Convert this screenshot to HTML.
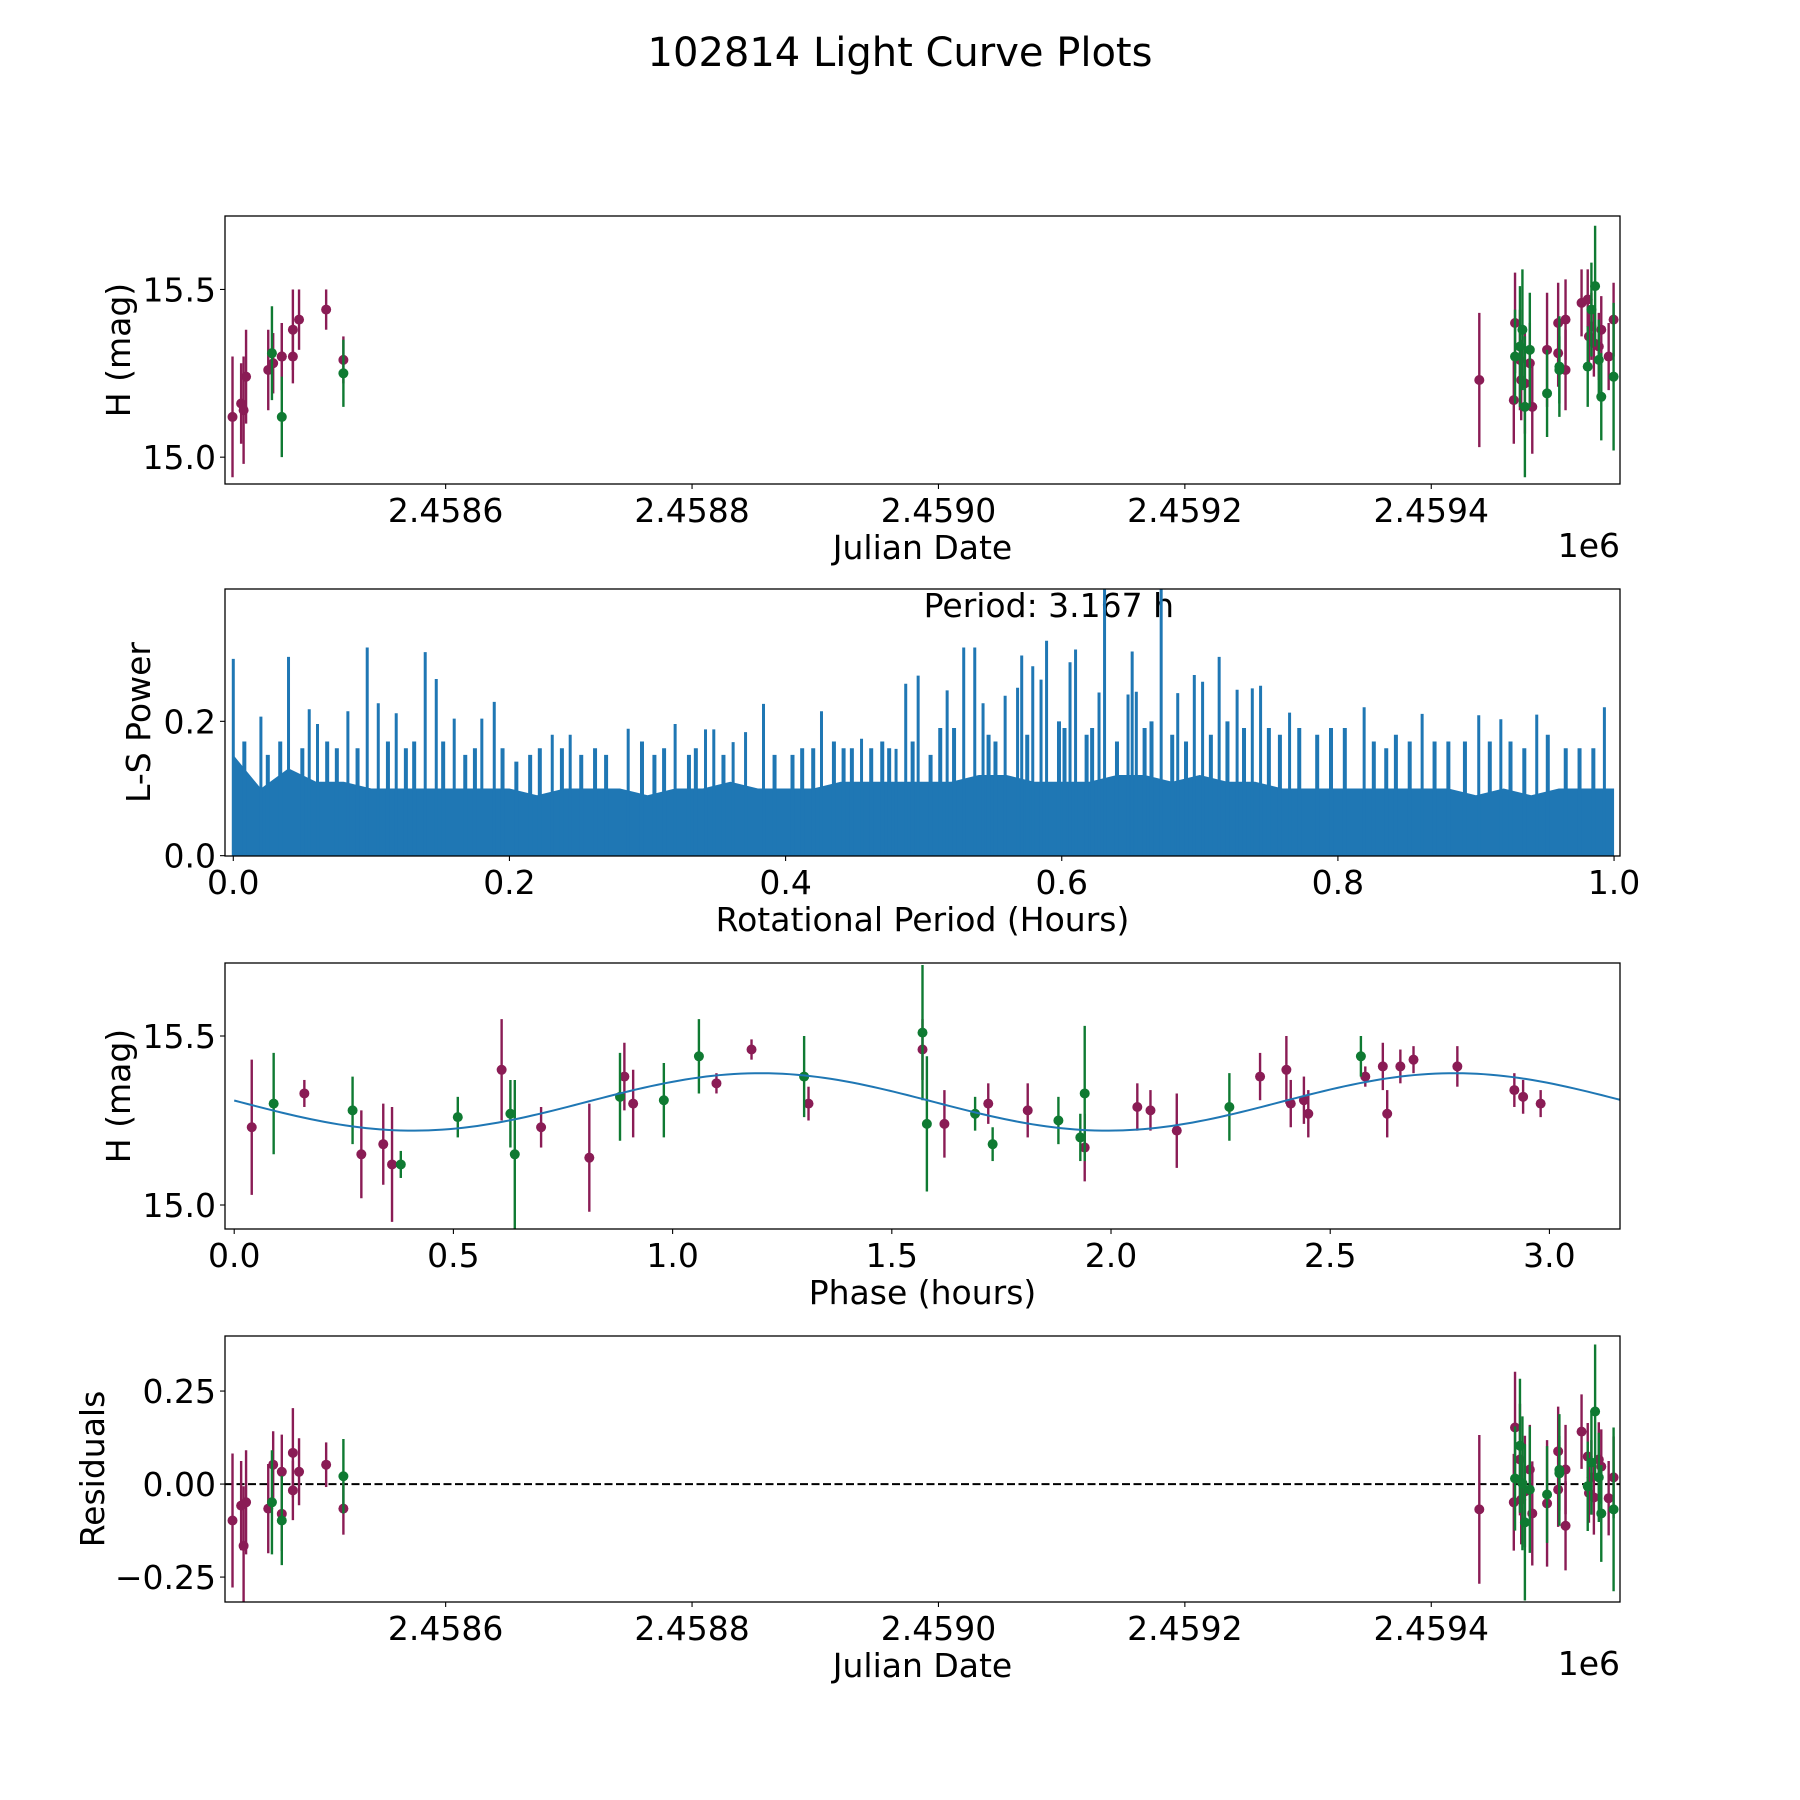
<!DOCTYPE html>
<html><head><meta charset="utf-8"><style>
html,body{margin:0;padding:0;background:#fff}
svg{display:block;font-family:"DejaVu Sans","Liberation Sans",sans-serif}
</style></head><body>
<svg id="fig" width="1800" height="1800" viewBox="0 0 1800 1800" xmlns="http://www.w3.org/2000/svg">
<text x="900" y="66" font-size="40" text-anchor="middle">102814 Light Curve Plots</text>
</svg>
<script>
// ---- Light curve data: [julian date, H mag, err, residual]
const lcPurple = [
[2458427,15.12,0.18,-0.098],[2458434,15.16,0.12,-0.058],[2458436,15.14,0.16,-0.166],[2458438,15.24,0.14,-0.049],
[2458456,15.26,0.12,-0.066],[2458460,15.28,0.09,0.052],[2458467,15.30,0.10,0.033],[2458467,15.30,0.10,-0.080],
[2458476,15.38,0.12,0.084],[2458476,15.30,0.08,-0.017],[2458481,15.41,0.09,0.033],[2458503,15.44,0.06,0.052],
[2458517,15.29,0.07,-0.066],
[2459439,15.23,0.20,-0.068],[2459467,15.17,0.13,-0.049],[2459468,15.40,0.15,0.152],[2459472,15.29,0.15,0.066],
[2459473,15.23,0.12,-0.042],[2459476,15.22,0.15,-0.020],[2459480,15.28,0.12,0.039],[2459482,15.15,0.14,-0.079],
[2459494,15.32,0.17,-0.052],[2459503,15.40,0.12,0.088],[2459503,15.31,0.10,-0.015],[2459509,15.41,0.12,0.039],
[2459509,15.26,0.12,-0.112],[2459522,15.46,0.10,0.141],[2459527,15.47,0.09,0.074],[2459530,15.39,0.10,0.018],
[2459528,15.36,0.08,-0.024],[2459532,15.34,0.10,-0.036],[2459536,15.33,0.10,0.066],[2459538,15.38,0.10,0.047],
[2459544,15.30,0.10,-0.038],[2459548,15.41,0.11,0.018]
];
const lcGreen = [
[2458459,15.31,0.14,-0.049],[2458467,15.12,0.12,-0.098],[2458517,15.25,0.10,0.021],
[2459468,15.30,0.14,0.015],[2459472,15.33,0.18,0.103],[2459474,15.38,0.18,0.002],[2459476,15.15,0.21,-0.103],
[2459480,15.32,0.17,-0.015],[2459494,15.19,0.13,-0.028],[2459504,15.27,0.15,0.038],[2459504,15.26,0.10,0.029],
[2459527,15.27,0.12,-0.006],[2459530,15.44,0.14,0.058],[2459533,15.51,0.18,0.195],[2459536,15.29,0.12,0.018],
[2459538,15.18,0.13,-0.079],[2459548,15.24,0.22,-0.068]
];
// ---- Phase-folded data: [phase hours, mag, err]
const phPurple = [
[0.04,15.23,0.20],[0.16,15.33,0.04],[0.29,15.15,0.13],[0.34,15.18,0.12],[0.36,15.12,0.17],[0.61,15.40,0.15],
[0.70,15.23,0.06],[0.81,15.14,0.16],[0.89,15.38,0.10],[0.91,15.30,0.10],[1.10,15.36,0.03],[1.18,15.46,0.03],
[1.31,15.30,0.05],[1.57,15.46,0.09],[1.62,15.24,0.10],[1.72,15.30,0.06],[1.81,15.28,0.08],[1.94,15.17,0.10],
[2.06,15.29,0.07],[2.09,15.28,0.06],[2.15,15.22,0.11],[2.34,15.38,0.07],[2.40,15.40,0.10],[2.41,15.30,0.07],
[2.44,15.31,0.07],[2.45,15.27,0.07],[2.58,15.38,0.03],[2.62,15.41,0.07],[2.63,15.27,0.07],[2.66,15.41,0.05],
[2.69,15.43,0.04],[2.79,15.41,0.06],[2.92,15.34,0.05],[2.94,15.32,0.05],[2.98,15.30,0.04]
];
const phGreen = [
[0.09,15.30,0.15],[0.27,15.28,0.10],[0.38,15.12,0.04],[0.51,15.26,0.06],[0.63,15.27,0.10],[0.64,15.15,0.22],
[0.88,15.32,0.13],[0.98,15.31,0.11],[1.06,15.44,0.11],[1.30,15.38,0.12],[1.57,15.51,0.20],[1.58,15.24,0.20],
[1.69,15.27,0.05],[1.73,15.18,0.05],[1.88,15.25,0.07],[1.93,15.20,0.07],[1.94,15.33,0.20],[2.27,15.29,0.10],
[2.57,15.44,0.06]
];
const modelMean = 15.305, modelAmp = 0.085, modelPeak = 1.2, period = 3.167;
// ---- Periodogram: prominent peaks, medium peaks and dense background level
const lsPeakX = [0.0,0.020,0.040,0.055,0.061,0.083,0.097,0.105,0.118,0.139,0.147,0.160,0.180,0.189,0.231,0.244,0.286,0.320,0.342,0.348,0.362,0.371,0.384,0.426,0.455,0.480,0.487,0.496,
0.517,0.529,0.537,0.543,0.559,0.568,0.571,0.579,0.585,0.589,0.606,0.610,0.627,0.631,0.648,0.651,0.654,0.672,0.684,0.696,0.702,0.714,0.727,0.738,0.744,0.765,0.819,0.861,0.902,0.918,0.944,0.993];
const lsPeakY = [0.293,0.207,0.296,0.218,0.196,0.215,0.310,0.227,0.212,0.303,0.263,0.204,0.204,0.229,0.180,0.180,0.189,0.196,0.188,0.188,0.169,0.184,0.226,0.215,0.174,0.159,0.256,0.268,
0.246,0.310,0.310,0.227,0.238,0.250,0.298,0.282,0.262,0.320,0.288,0.307,0.243,0.400,0.240,0.304,0.244,0.400,0.242,0.269,0.259,0.296,0.247,0.249,0.253,0.213,0.221,0.211,0.209,0.203,0.210,0.221];
const lsMidX = [0.008,0.025,0.034,0.050,0.068,0.075,0.090,0.112,0.125,0.131,0.152,0.168,0.175,0.195,0.205,0.215,0.222,0.238,0.252,0.262,0.270,0.296,0.305,0.312,0.330,0.335,0.355,0.392,0.405,0.412,0.420,0.435,0.442,0.448,0.462,0.470,0.475,0.492,
0.505,0.512,0.522,0.547,0.552,0.575,0.598,0.602,0.618,0.622,0.640,0.660,0.665,0.680,0.690,0.708,0.720,0.732,0.750,0.758,0.772,0.785,0.795,0.805,0.826,0.835,0.842,0.852,0.870,0.880,0.892,0.910,0.925,0.935,0.952,0.965,0.975,0.985];
const lsMidY = [0.17,0.15,0.17,0.16,0.17,0.16,0.16,0.17,0.16,0.17,0.17,0.15,0.16,0.16,0.14,0.15,0.16,0.16,0.15,0.16,0.15,0.17,0.15,0.16,0.15,0.16,0.15,0.15,0.15,0.16,0.16,0.17,0.16,0.16,0.16,0.17,0.16,0.17,
0.15,0.19,0.19,0.18,0.17,0.18,0.20,0.19,0.18,0.19,0.17,0.19,0.20,0.18,0.17,0.18,0.20,0.19,0.19,0.18,0.19,0.18,0.19,0.19,0.17,0.16,0.18,0.17,0.17,0.17,0.17,0.17,0.17,0.16,0.18,0.16,0.16,0.16];
const lsBandX = [0,0.02,0.04,0.06,0.08,0.10,0.12,0.14,0.16,0.18,0.20,0.22,0.24,0.26,0.28,0.30,0.32,0.34,0.36,0.38,0.40,0.42,0.44,0.46,0.48,0.50,0.52,0.54,0.56,0.58,0.60,0.62,0.64,0.66,0.68,0.70,0.72,0.74,0.76,0.78,0.80,0.82,0.84,0.86,0.88,0.90,0.92,0.94,0.96,0.98,1.00];
const lsBandY = [0.15,0.10,0.13,0.11,0.11,0.10,0.10,0.10,0.10,0.10,0.10,0.09,0.10,0.10,0.10,0.09,0.10,0.10,0.11,0.10,0.10,0.10,0.11,0.11,0.11,0.11,0.11,0.12,0.12,0.11,0.11,0.11,0.12,0.12,0.11,0.12,0.11,0.11,0.10,0.10,0.10,0.10,0.10,0.10,0.10,0.09,0.10,0.09,0.10,0.10,0.10];
const jdTicks = [2458600,2458800,2459000,2459200,2459400];
const jdTickLabels = ["2.4586","2.4588","2.4590","2.4592","2.4594"];
const magTicks = [15.0,15.5];
const magTickLabels = ["15.0","15.5"];
const lsXTicks = [0,0.2,0.4,0.6,0.8,1.0];
const lsXTickLabels = ["0.0","0.2","0.4","0.6","0.8","1.0"];
const lsYTicks = [0,0.2];
const lsYTickLabels = ["0.0","0.2"];
const phTicks = [0,0.5,1,1.5,2,2.5,3];
const phTickLabels = ["0.0","0.5","1.0","1.5","2.0","2.5","3.0"];
const resTicks = [-0.25,0,0.25];
const resTickLabels = ["\u22120.25","0.00","0.25"];

const NS="http://www.w3.org/2000/svg";
const svg=document.getElementById('fig');
const PUR="#8a1c55", GRN="#0f7a32", BLUE="#1f77b4";
const L=225,R=1620, FS=33;
function mk(tag,attrs,parent){const e=document.createElementNS(NS,tag);for(const k in attrs)e.setAttribute(k,attrs[k]);(parent||svg).appendChild(e);return e;}
function lin(d0,d1,p0,p1){return v=>p0+(v-d0)*(p1-p0)/(d1-d0);}

function axes(name,top,bot,xs,ys,xt,xtl,yt,ytl,xlabel,ylabel,ylabelX,offset){
  const g=mk('g',{});
  
  
  xt.forEach((t,i)=>{const x=xs(t);
    mk('line',{x1:x,x2:x,y1:bot,y2:bot+5,stroke:'#000','stroke-width':1.1},g);
    const tx=mk('text',{x:x,y:bot+38,'font-size':FS,'text-anchor':'middle'},g);tx.textContent=xtl[i];
    
    
  });
  yt.forEach((t,i)=>{const y=ys(t);
    mk('line',{x1:L-5,x2:L,y1:y,y2:y,stroke:'#000','stroke-width':1.1},g);
    const tx=mk('text',{x:L-9,y:y+12,'font-size':FS,'text-anchor':'end'},g);tx.textContent=ytl[i];
    
    
  });
  const xl=mk('text',{x:(L+R)/2,y:bot+75,'font-size':FS,'text-anchor':'middle'},g);xl.textContent=xlabel;
  
  
  const cy=(top+bot)/2;
  const yl=mk('text',{x:ylabelX,y:cy,'font-size':FS,'text-anchor':'middle',transform:`rotate(-90 ${ylabelX} ${cy})`},g);yl.textContent=ylabel;
  
  
  if(offset){const o=mk('text',{x:R,y:bot+73,'font-size':FS,'text-anchor':'end'},g);o.textContent=offset;
    
    }
  const clip=mk('clipPath',{id:'c'+name});mk('rect',{x:L,y:top,width:R-L,height:bot-top},clip);
  const plot=mk('g',{'clip-path':`url(#c${name})`});
  return {g,plot,frame:()=>mk('rect',{x:L,y:top,width:R-L,height:bot-top,fill:'none',stroke:'#000','stroke-width':1.3})};
}
function errPoints(plot,pts,xs,ys,xi,yi,ei,col,name){
  pts.forEach(p=>{const x=xs(p[xi]),e=p[ei];
    const ln=mk('line',{x1:x,x2:x,y1:ys(p[yi]-e),y2:ys(p[yi]+e),stroke:col,'stroke-width':2.4},plot);
    
    
  });
  pts.forEach(p=>{const c=mk('circle',{cx:xs(p[xi]),cy:ys(p[yi]),r:5,fill:col},plot);
    
    
  });
}

// Panel 1: light curve
(function(){const top=216,bot=484;
 const xs=lin(2458420.9,2459553.2,L,R), ys=lin(14.920,15.719,bot,top);
 const a=axes('light-curve-panel',top,bot,xs,ys,jdTicks,jdTickLabels,magTicks,magTickLabels,'Julian Date','H (mag)',130,'1e6');
 errPoints(a.plot,lcPurple,xs,ys,0,1,2,PUR,'purple-observation');
 errPoints(a.plot,lcGreen,xs,ys,0,1,2,GRN,'green-observation');
 a.frame();})();

// Panel 2: periodogram
(function(){const top=589,bot=856;
 const xs=lin(-0.006,1.0043,L,R), ys=lin(-0.0005,0.397,bot,top);
 const a=axes('periodogram-panel',top,bot,xs,ys,lsXTicks,lsXTickLabels,lsYTicks,lsYTickLabels,'Rotational Period (Hours)','L-S Power',150,null);
 let d=`M${xs(lsBandX[0])},${ys(0)}`;
 lsBandX.forEach((x,i)=>{d+=` L${xs(x)},${ys(lsBandY[i])}`;});
 d+=` L${xs(lsBandX[lsBandX.length-1])},${ys(0)} Z`;
 const band=mk('path',{d:d,fill:BLUE},a.plot);
 
 
 lsMidX.forEach((x,i)=>{const ln=mk('line',{x1:xs(x),x2:xs(x),y1:ys(0),y2:ys(lsMidY[i]),stroke:BLUE,'stroke-width':4},a.plot);
   
   });
 lsPeakX.forEach((x,i)=>{const ln=mk('line',{x1:xs(x),x2:xs(x),y1:ys(0),y2:ys(lsPeakY[i]),stroke:BLUE,'stroke-width':3},a.plot);
   
   });
 const t=mk('text',{x:xs(0.5),y:617,'font-size':FS},a.g);t.textContent='Period: 3.167 h';
 
 
 a.frame();})();

// Panel 3: phase folded
(function(){const top=963,bot=1229;
 const xs=lin(-0.021,3.161,L,R), ys=lin(14.929,15.716,bot,top);
 const a=axes('phase-panel',top,bot,xs,ys,phTicks,phTickLabels,magTicks,magTickLabels,'Phase (hours)','H (mag)',130,null);
 errPoints(a.plot,phPurple,xs,ys,0,1,2,PUR,'purple-phase');
 errPoints(a.plot,phGreen,xs,ys,0,1,2,GRN,'green-phase');
 let d='';const n=200;
 for(let i=0;i<=n;i++){const p=period*i/n;const m=modelMean+modelAmp*Math.cos(2*Math.PI*(p-modelPeak)/(period/2));d+=(i?' L':'M')+xs(p)+','+ys(m);}
 const c=mk('path',{d:d,fill:'none',stroke:BLUE,'stroke-width':2},a.plot);
 
 
 a.frame();})();

// Panel 4: residuals
(function(){const top=1336,bot=1602;
 const xs=lin(2458420.9,2459553.2,L,R), ys=lin(-0.317,0.398,bot,top);
 const a=axes('residuals-panel',top,bot,xs,ys,jdTicks,jdTickLabels,resTicks,resTickLabels,'Julian Date','Residuals',104,'1e6');
 const z=mk('line',{x1:L,x2:R,y1:ys(0),y2:ys(0),stroke:'#000','stroke-width':2,'stroke-dasharray':'8,3.5'},a.plot);
 
 
 errPoints(a.plot,lcPurple,xs,ys,0,3,2,PUR,'purple-residual');
 errPoints(a.plot,lcGreen,xs,ys,0,3,2,GRN,'green-residual');
 a.frame();})();
</script>
</body></html>
